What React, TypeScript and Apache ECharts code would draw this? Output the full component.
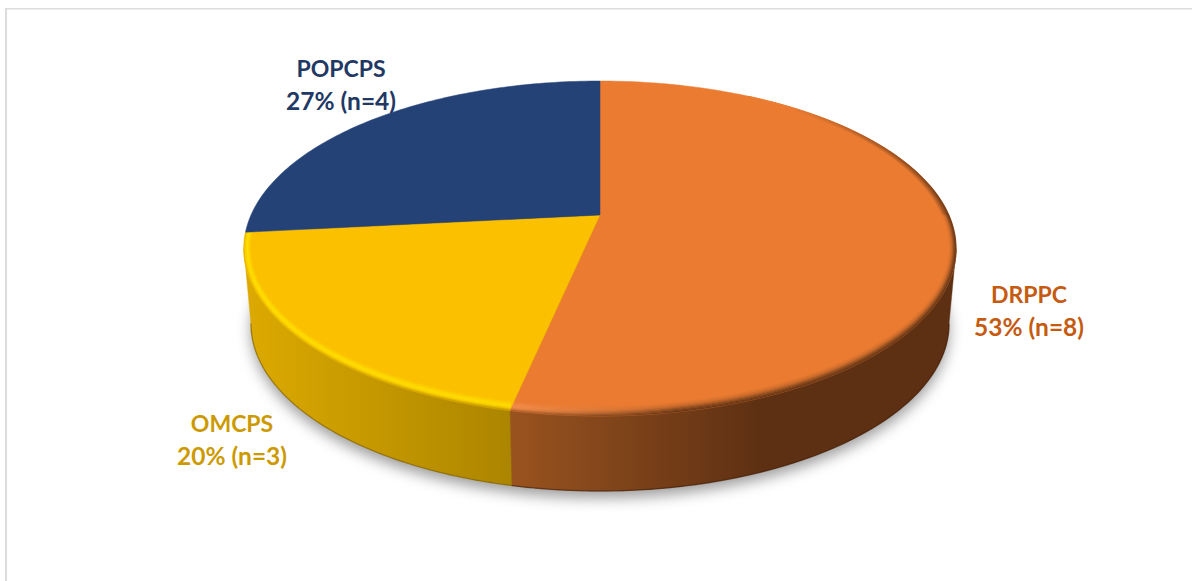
import React, { useEffect, useRef } from "react";
import * as echarts from "echarts";

// Pie slices, clockwise from twelve o'clock
const categories = ["DRPPC", "OMCPS", "POPCPS"];
const counts = [8, 3, 4];

const faceColors = ["#EA7B31", "#FBC000", "#254277"];
const labelColors = ["#C55A11", "#CC9A00", "#1F3864"];
const labelCentres = [
  [1029, 310],
  [232, 439],
  [341, 84],
];

// Perspective disc: the rim is a circle tilted away from the viewer
const CX = 600;
const TILT = 0.2;
const topDisc = { a: 349, b: 160.8, cy: 215 };
const bottomDisc = { a: 342, b: 160.8, cy: 290 };
const RIM_X = 0.02;
const RIM_FRONT_Y = 0.05;
const RIM_BACK_Y = 0.017;
// Where the side wall meets the silhouette of the disc
const TANGENT = (Math.acos(-TILT) * 180) / Math.PI;

const total = counts.reduce((s, v) => s + v, 0);
const sweep: [number, number][] = [];
counts.reduce((acc, v) => {
  const next = acc + (v / total) * 360;
  sweep.push([acc, next]);
  return next;
}, 0);

type Disc = { a: number; b: number; cy: number };

function project(deg: number, disc: Disc): [number, number] {
  const t = (deg * Math.PI) / 180;
  const d = 1 + TILT * Math.cos(t);
  return [CX + (disc.a * Math.sin(t)) / d, disc.cy - (disc.b * Math.cos(t)) / d];
}

function arc(from: number, to: number, disc: Disc): [number, number][] {
  const n = Math.max(2, Math.ceil(Math.abs(to - from)));
  const pts: [number, number][] = [];
  for (let i = 0; i <= n; i++) pts.push(project(from + ((to - from) * i) / n, disc));
  return pts;
}

function inset(p: [number, number], u: number): [number, number] {
  const ky = p[1] > topDisc.cy ? RIM_FRONT_Y : RIM_BACK_Y;
  return [CX + (p[0] - CX) * (1 - RIM_X * u), topDisc.cy + (p[1] - topDisc.cy) * (1 - ky * u)];
}

function hex(c: string): number[] {
  return [1, 3, 5].map((i) => parseInt(c.slice(i, i + 2), 16));
}
function mix(a: string, b: string, t: number): string {
  const [p, q] = [hex(a), hex(b)];
  return `rgb(${p.map((v, i) => Math.round(v + (q[i] - v) * t)).join(",")})`;
}
// Piecewise colour ramp over [0, 1]
function ramp(stops: [number, string][], t: number): string {
  for (let i = 1; i < stops.length; i++) {
    if (t <= stops[i][0]) {
      const [t0, c0] = stops[i - 1];
      const [t1, c1] = stops[i];
      return mix(c0, c1, (t - t0) / (t1 - t0));
    }
  }
  return stops[stops.length - 1][1];
}

function hGradient(x0: number, x1: number, c0: string, c1: string) {
  return new echarts.graphic.LinearGradient(
    x0, 0, x1, 0,
    [{ offset: 0, color: c0 }, { offset: 1, color: c1 }],
    true
  );
}

// Bevel along the rim, built of thin strips from the face colour to the wall colour
function bevel(
  from: number,
  to: number,
  x0: number,
  x1: number,
  left: [number, string][],
  right: [number, string][]
) {
  const strips = 9;
  const rim = arc(from, to, topDisc);
  const out: any[] = [];
  for (let i = 0; i < strips; i++) {
    const uIn = 1 - i / strips;
    const uOut = 1 - (i + 1) / strips;
    const t = (i + 0.5) / strips;
    const pts = [...rim.map((p) => inset(p, uIn)), ...rim.map((p) => inset(p, uOut)).reverse()];
    const c0 = ramp(left, t);
    const c1 = ramp(right, t);
    out.push({
      type: "polygon",
      shape: { points: pts },
      style: { fill: hGradient(x0, x1, c0, c1), stroke: hGradient(x0, x1, c0, c1), lineWidth: 0.4 },
    });
  }
  return out;
}

function wall(from: number, to: number, x0: number, x1: number, c0: string, c1: string, edge: string) {
  const lower = arc(from, to, bottomDisc);
  return [
    {
      type: "polygon",
      shape: { points: [...arc(from, to, topDisc), ...lower.slice().reverse()] },
      style: { fill: hGradient(x0, x1, c0, c1), stroke: hGradient(x0, x1, c0, c1), lineWidth: 0.4 },
    },
    {
      type: "polyline",
      shape: { points: lower },
      style: { fill: "none", stroke: edge, lineWidth: 1.4, opacity: 0.55 },
    },
  ];
}

function renderSlice(params: any) {
  const i = params.dataIndex;
  const [from, to] = sweep[i];
  const children: any[] = [];
  if (i === 0) children.push(...wall(TANGENT, to, 512, 760, "#99531F", "#5E3013", "#3F1E08"));
  if (i === 1) children.push(...wall(from, 360 - TANGENT, 250, 512, "#DBA900", "#AC8500", "#7D6000"));
  children.push({
    type: "polygon",
    shape: { points: [[CX, topDisc.cy], ...arc(from, to, topDisc)] },
    style: { fill: faceColors[i], stroke: faceColors[i], lineWidth: 0.5 },
  });
  if (i === 0) {
    children.push(
      ...bevel(30, 90, 790, 950, [[0, faceColors[0]], [1, faceColors[0]]], [[0, "#D9722C"], [1, "#5E3013"]]),
      ...bevel(
        90, to, 520, 680,
        [[0, faceColors[0]], [0.55, "#F48D4C"], [0.8, "#E4813F"], [1, "#A2592A"]],
        [[0, faceColors[0]], [0.4, "#C96A2A"], [0.75, "#80451C"], [1, "#5E3013"]]
      )
    );
  }
  if (i === 1) {
    children.push(
      ...bevel(
        from, to, 250, 512,
        [[0, faceColors[1]], [0.5, "#FFE000"], [0.8, "#FFD400"], [1, "#E2B000"]],
        [[0, faceColors[1]], [0.55, "#FFDF00"], [0.8, "#F2C600"], [1, "#B58C00"]]
      )
    );
  }
  return { type: "group", children };
}

function renderLabel(params: any) {
  const i = params.dataIndex;
  const pct = Math.round((counts[i] / total) * 100);
  const family = 'Lato, "Noto Sans", sans-serif';
  return {
    type: "text",
    x: labelCentres[i][0],
    y: labelCentres[i][1],
    style: {
      text: `{name|${categories[i]}}\n{share|${pct}% (n=${counts[i]})}`,
      fill: labelColors[i],
      align: "center",
      verticalAlign: "middle",
      rich: {
        name: { fontFamily: family, fontWeight: "bold", fontSize: 23, lineHeight: 33, fill: labelColors[i] },
        share: { fontFamily: family, fontWeight: "bold", fontSize: 24.5, lineHeight: 33, fill: labelColors[i] },
      },
    },
  };
}

export default function App() {
  const ref = useRef<HTMLDivElement>(null);
  useEffect(() => {
    const chart = echarts.init(ref.current!, undefined, { renderer: "svg" });
    chart.setOption({
      animation: false,
      backgroundColor: "#ffffff",
      graphic: [
        { type: "rect", shape: { x: 5, y: 8, width: 2, height: 573 }, style: { fill: "#DCDCDC" } },
        { type: "rect", shape: { x: 5, y: 8, width: 1187, height: 1.5 }, style: { fill: "#DCDCDC" } },
      ],
      series: [
        {
          // Underside of the disc, casting the soft shadow on the page
          type: "custom",
          name: "shadow",
          coordinateSystem: "none",
          silent: true,
          z: 1,
          data: [[total]],
          renderItem: () => ({
            type: "polygon",
            shape: { points: arc(0, 360, bottomDisc) },
            style: {
              fill: "#5E3013",
              shadowBlur: 14,
              shadowColor: "rgba(0,0,0,0.38)",
              shadowOffsetX: 0,
              shadowOffsetY: 7,
            },
          }),
        },
        {
          type: "custom",
          name: "slices",
          coordinateSystem: "none",
          silent: true,
          z: 2,
          data: counts.map((v) => [v]),
          renderItem: renderSlice,
        },
        {
          type: "custom",
          name: "labels",
          coordinateSystem: "none",
          silent: true,
          z: 3,
          data: counts.map((v) => [v]),
          renderItem: renderLabel,
        },
      ],
    });
    return () => chart.dispose();
  }, []);
  return <div ref={ref} style={{ position: "fixed", left: 0, top: 0, width: 1192, height: 581 }} />;
}
